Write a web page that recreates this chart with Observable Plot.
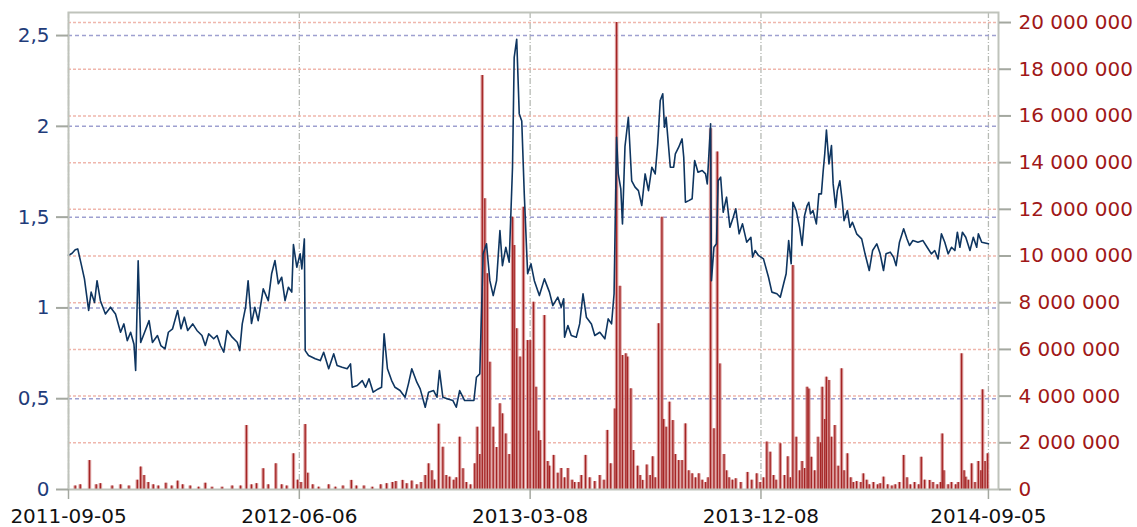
<!DOCTYPE html>
<html><head><meta charset="utf-8">
<script src="https://cdn.jsdelivr.net/npm/d3@7"></script>
<script src="https://cdn.jsdelivr.net/npm/@observablehq/plot@0.6"></script>
<style>body{margin:0;background:#fff;} svg{display:block;}</style>
</head><body><div id="chart"></div>
<script>
// Price (left axis)
const priceSeries = [["2011-09-05",1.29],["2011-09-09",1.30],["2011-09-13",1.32],["2011-09-16",1.325],["2011-09-20",1.244],["2011-09-24",1.16],["2011-09-29",0.986],["2011-10-02",1.087],["2011-10-06",1.03],["2011-10-09",1.15],["2011-10-13",1.04],["2011-10-19",0.967],["2011-10-25",1.004],["2011-10-31",0.967],["2011-11-06",0.866],["2011-11-10",0.912],["2011-11-14",0.82],["2011-11-18",0.866],["2011-11-22",0.80],["2011-11-24",0.655],["2011-11-27",1.26],["2011-11-30",0.81],["2011-12-04",0.858],["2011-12-10",0.93],["2011-12-14",0.81],["2011-12-20",0.848],["2011-12-24",0.793],["2011-12-29",0.775],["2012-01-02",0.866],["2012-01-07",0.885],["2012-01-13",0.986],["2012-01-17",0.885],["2012-01-21",0.949],["2012-01-25",0.876],["2012-01-31",0.912],["2012-02-05",0.876],["2012-02-11",0.848],["2012-02-15",0.793],["2012-02-19",0.857],["2012-02-25",0.83],["2012-02-29",0.848],["2012-03-04",0.793],["2012-03-08",0.756],["2012-03-12",0.876],["2012-03-18",0.839],["2012-03-24",0.811],["2012-03-27",0.765],["2012-03-30",0.912],["2012-04-03",1.004],["2012-04-06",1.15],["2012-04-10",0.914],["2012-04-14",1.004],["2012-04-18",0.93],["2012-04-24",1.105],["2012-04-30",1.04],["2012-05-04",1.188],["2012-05-08",1.261],["2012-05-12",1.133],["2012-05-16",1.169],["2012-05-20",1.04],["2012-05-24",1.114],["2012-05-28",1.087],["2012-05-30",1.349],["2012-06-03",1.224],["2012-06-07",1.298],["2012-06-09",1.215],["2012-06-12",1.38],["2012-06-13",0.765],["2012-06-17",0.738],["2012-06-25",0.72],["2012-07-01",0.71],["2012-07-05",0.756],["2012-07-11",0.665],["2012-07-17",0.747],["2012-07-21",0.683],["2012-07-27",0.673],["2012-08-02",0.665],["2012-08-06",0.692],["2012-08-08",0.563],["2012-08-14",0.573],["2012-08-20",0.60],["2012-08-24",0.563],["2012-08-28",0.61],["2012-09-02",0.536],["2012-09-08",0.554],["2012-09-12",0.563],["2012-09-15",0.857],["2012-09-19",0.665],["2012-09-24",0.60],["2012-09-28",0.563],["2012-10-04",0.545],["2012-10-10",0.508],["2012-10-14",0.582],["2012-10-18",0.665],["2012-10-24",0.591],["2012-10-28",0.554],["2012-11-03",0.453],["2012-11-07",0.536],["2012-11-13",0.545],["2012-11-17",0.508],["2012-11-20",0.655],["2012-11-24",0.508],["2012-11-30",0.499],["2012-12-06",0.49],["2012-12-10",0.453],["2012-12-14",0.545],["2012-12-20",0.49],["2012-12-26",0.49],["2012-12-31",0.49],["2013-01-03",0.618],["2013-01-07",0.637],["2013-01-11",1.298],["2013-01-15",1.353],["2013-01-19",1.15],["2013-01-23",1.068],["2013-01-27",1.15],["2013-01-31",1.426],["2013-02-03",1.233],["2013-02-07",1.334],["2013-02-11",1.252],["2013-02-15",1.775],["2013-02-17",2.38],["2013-02-20",2.48],["2013-02-23",2.07],["2013-02-26",2.03],["2013-03-01",1.628],["2013-03-05",1.188],["2013-03-09",1.243],["2013-03-13",1.15],["2013-03-19",1.068],["2013-03-25",1.16],["2013-03-31",1.087],["2013-04-04",1.013],["2013-04-10",1.059],["2013-04-14",1.004],["2013-04-17",1.05],["2013-04-18",0.839],["2013-04-22",0.903],["2013-04-26",0.848],["2013-05-02",0.839],["2013-05-06",0.912],["2013-05-10",1.078],["2013-05-14",0.949],["2013-05-20",0.912],["2013-05-24",0.848],["2013-05-30",0.866],["2013-06-05",0.83],["2013-06-09",0.94],["2013-06-13",0.912],["2013-06-16",1.078],["2013-06-19",1.94],["2013-06-21",1.738],["2013-06-24",1.656],["2013-06-26",1.463],["2013-06-29",1.89],["2013-07-03",2.05],["2013-07-07",1.70],["2013-07-11",1.665],["2013-07-15",1.646],["2013-07-19",1.564],["2013-07-23",1.738],["2013-07-27",1.646],["2013-07-31",1.775],["2013-08-04",1.738],["2013-08-07",1.904],["2013-08-10",2.142],["2013-08-13",2.179],["2013-08-15",1.995],["2013-08-17",2.05],["2013-08-20",1.885],["2013-08-22",1.775],["2013-08-26",1.775],["2013-08-28",1.849],["2013-09-01",1.885],["2013-09-05",1.931],["2013-09-07",1.83],["2013-09-09",1.582],["2013-09-13",1.591],["2013-09-17",1.601],["2013-09-20",1.812],["2013-09-24",1.747],["2013-09-29",1.757],["2013-10-03",1.738],["2013-10-05",1.683],["2013-10-09",2.014],["2013-10-10",1.15],["2013-10-13",1.334],["2013-10-16",1.353],["2013-10-18",1.70],["2013-10-21",1.72],["2013-10-24",1.527],["2013-10-28",1.61],["2013-11-01",1.444],["2013-11-05",1.5],["2013-11-08",1.546],["2013-11-12",1.408],["2013-11-16",1.463],["2013-11-21",1.362],["2013-11-26",1.389],["2013-11-28",1.279],["2013-12-01",1.316],["2013-12-05",1.289],["2013-12-11",1.27],["2013-12-17",1.169],["2013-12-21",1.087],["2013-12-27",1.078],["2013-12-31",1.059],["2014-01-04",1.133],["2014-01-07",1.188],["2014-01-10",1.371],["2014-01-13",1.243],["2014-01-15",1.582],["2014-01-19",1.536],["2014-01-23",1.444],["2014-01-26",1.344],["2014-01-29",1.509],["2014-02-01",1.564],["2014-02-03",1.582],["2014-02-05",1.518],["2014-02-08",1.536],["2014-02-12",1.463],["2014-02-15",1.628],["2014-02-18",1.628],["2014-02-20",1.747],["2014-02-22",1.849],["2014-02-24",1.98],["2014-02-27",1.793],["2014-03-02",1.894],["2014-03-04",1.683],["2014-03-07",1.554],["2014-03-09",1.646],["2014-03-12",1.70],["2014-03-15",1.582],["2014-03-17",1.481],["2014-03-21",1.536],["2014-03-24",1.444],["2014-03-27",1.472],["2014-04-01",1.408],["2014-04-07",1.38],["2014-04-11",1.298],["2014-04-16",1.206],["2014-04-20",1.316],["2014-04-25",1.353],["2014-04-29",1.298],["2014-05-03",1.206],["2014-05-06",1.298],["2014-05-11",1.307],["2014-05-15",1.279],["2014-05-18",1.233],["2014-05-22",1.362],["2014-05-27",1.436],["2014-05-31",1.38],["2014-06-03",1.344],["2014-06-07",1.371],["2014-06-13",1.362],["2014-06-19",1.371],["2014-06-24",1.334],["2014-06-29",1.298],["2014-07-03",1.316],["2014-07-07",1.27],["2014-07-11",1.408],["2014-07-15",1.362],["2014-07-19",1.298],["2014-07-23",1.334],["2014-07-27",1.316],["2014-07-30",1.417],["2014-08-02",1.334],["2014-08-05",1.417],["2014-08-09",1.389],["2014-08-14",1.316],["2014-08-18",1.389],["2014-08-22",1.334],["2014-08-24",1.408],["2014-08-28",1.362],["2014-09-05",1.353]];

// Volume in millions (right axis)
const volumeSeries = [["2011-09-13",0.15],["2011-09-19",0.2],["2011-09-30",1.24],["2011-10-08",0.2],["2011-10-13",0.25],["2011-10-27",0.15],["2011-11-06",0.2],["2011-11-16",0.15],["2011-11-26",0.4],["2011-11-30",0.96],["2011-12-04",0.6],["2011-12-09",0.3],["2011-12-15",0.2],["2011-12-21",0.15],["2011-12-30",0.27],["2012-01-06",0.15],["2012-01-13",0.36],["2012-01-19",0.2],["2012-01-28",0.15],["2012-02-07",0.1],["2012-02-15",0.27],["2012-02-23",0.1],["2012-03-06",0.1],["2012-03-18",0.15],["2012-03-28",0.15],["2012-04-04",2.74],["2012-04-10",0.2],["2012-04-16",0.25],["2012-04-24",0.89],["2012-04-30",0.2],["2012-05-09",1.1],["2012-05-16",0.2],["2012-05-22",0.15],["2012-05-30",1.53],["2012-06-04",0.4],["2012-06-08",0.3],["2012-06-13",2.78],["2012-06-16",0.7],["2012-06-22",0.2],["2012-06-29",0.1],["2012-07-11",0.2],["2012-07-19",0.1],["2012-07-28",0.15],["2012-08-07",0.39],["2012-08-13",0.15],["2012-08-22",0.15],["2012-09-01",0.1],["2012-09-11",0.2],["2012-09-18",0.25],["2012-09-25",0.3],["2012-09-29",0.34],["2012-10-07",0.39],["2012-10-12",0.25],["2012-10-18",0.36],["2012-10-24",0.2],["2012-10-29",0.3],["2012-11-03",0.6],["2012-11-07",1.1],["2012-11-11",0.8],["2012-11-14",0.4],["2012-11-19",2.8],["2012-11-24",1.81],["2012-11-28",0.6],["2012-12-02",0.53],["2012-12-07",0.4],["2012-12-10",0.5],["2012-12-14",2.24],["2012-12-18",0.89],["2012-12-22",0.3],["2012-12-27",0.2],["2013-01-01",1.1],["2013-01-04",2.67],["2013-01-07",1.5],["2013-01-10",17.73],["2013-01-13",12.45],["2013-01-16",9.24],["2013-01-19",5.45],["2013-01-23",2.67],["2013-01-27",1.8],["2013-01-31",3.67],["2013-02-03",3.24],["2013-02-07",2.38],["2013-02-11",1.5],["2013-02-15",11.66],["2013-02-17",10.45],["2013-02-20",6.88],["2013-02-24",5.67],["2013-02-28",12.09],["2013-03-05",6.38],["2013-03-08",6.38],["2013-03-12",8.02],["2013-03-15",4.38],["2013-03-18",2.5],["2013-03-20",2.1],["2013-03-25",7.45],["2013-03-29",1.2],["2013-03-31",1.0],["2013-04-05",1.46],["2013-04-10",0.7],["2013-04-14",0.9],["2013-04-18",0.5],["2013-04-22",0.9],["2013-04-27",0.4],["2013-04-30",0.3],["2013-05-05",0.3],["2013-05-08",0.6],["2013-05-13",1.46],["2013-05-18",0.5],["2013-05-24",0.34],["2013-05-30",0.6],["2013-06-04",0.4],["2013-06-08",2.53],["2013-06-12",1.1],["2013-06-17",3.45],["2013-06-19",20.0],["2013-06-23",8.7],["2013-06-26",5.74],["2013-06-30",5.81],["2013-07-02",5.67],["2013-07-06",4.31],["2013-07-09",1.67],["2013-07-14",1.0],["2013-07-17",0.6],["2013-07-20",0.39],["2013-07-25",1.05],["2013-07-29",0.6],["2013-08-01",1.4],["2013-08-04",0.5],["2013-08-08",7.1],["2013-08-12",11.66],["2013-08-14",3.0],["2013-08-17",2.67],["2013-08-21",3.74],["2013-08-25",2.95],["2013-08-28",1.5],["2013-09-01",1.24],["2013-09-05",1.24],["2013-09-09",2.81],["2013-09-13",0.8],["2013-09-17",0.67],["2013-09-21",0.5],["2013-09-25",0.67],["2013-09-29",0.4],["2013-10-03",0.3],["2013-10-06",0.5],["2013-10-09",15.45],["2013-10-13",2.6],["2013-10-17",14.45],["2013-10-20",5.38],["2013-10-25",1.5],["2013-10-28",0.8],["2013-10-31",0.5],["2013-11-04",0.4],["2013-11-08",0.46],["2013-11-14",0.3],["2013-11-22",0.73],["2013-11-27",0.4],["2013-12-03",0.67],["2013-12-07",0.3],["2013-12-11",0.5],["2013-12-15",2.03],["2013-12-19",1.6],["2013-12-23",0.6],["2013-12-26",0.4],["2013-12-31",1.96],["2014-01-05",0.6],["2014-01-09",1.4],["2014-01-12",0.5],["2014-01-15",9.59],["2014-01-19",2.24],["2014-01-23",0.8],["2014-01-26",1.2],["2014-01-29",0.9],["2014-02-01",4.38],["2014-02-03",4.3],["2014-02-06",1.38],["2014-02-10",0.8],["2014-02-14",2.24],["2014-02-17",2.0],["2014-02-19",4.38],["2014-02-22",3.0],["2014-02-24",4.81],["2014-02-27",4.67],["2014-03-02",2.24],["2014-03-06",2.74],["2014-03-10",1.0],["2014-03-14",5.17],["2014-03-17",0.8],["2014-03-21",1.53],["2014-03-25",0.5],["2014-03-28",0.3],["2014-04-01",0.34],["2014-04-06",0.3],["2014-04-09",0.67],["2014-04-13",0.4],["2014-04-16",0.2],["2014-04-21",0.3],["2014-04-26",0.2],["2014-04-29",0.25],["2014-05-03",0.53],["2014-05-08",0.2],["2014-05-13",0.15],["2014-05-17",0.2],["2014-05-22",0.3],["2014-05-27",1.46],["2014-05-31",0.5],["2014-06-04",0.2],["2014-06-09",0.3],["2014-06-14",0.2],["2014-06-17",1.38],["2014-06-21",0.4],["2014-06-27",0.39],["2014-07-01",0.3],["2014-07-06",0.2],["2014-07-10",0.3],["2014-07-12",2.38],["2014-07-14",0.8],["2014-07-19",0.2],["2014-07-23",0.3],["2014-07-28",0.2],["2014-07-31",0.3],["2014-08-04",5.81],["2014-08-07",0.8],["2014-08-09",0.53],["2014-08-12",0.4],["2014-08-16",1.1],["2014-08-20",0.3],["2014-08-24",1.2],["2014-08-27",0.8],["2014-08-29",4.27],["2014-09-01",1.2],["2014-09-04",1.53]];

const dateTicks = ["2011-09-05","2012-06-06","2013-03-08","2013-12-08","2014-09-05"];
const priceTicks = [0, 0.5, 1, 1.5, 2, 2.5];
const volumeTicks = [0, 2, 4, 6, 8, 10, 12, 14, 16, 18, 20]; // millions
const xRange = ["2011-09-05", "2014-09-17"];
const priceMax = 2.627;
const volumeMax = 20.43; // millions at the top of the frame

const parse = d3.utcParse("%Y-%m-%d");
const k = priceMax / volumeMax;
const priceData = priceSeries.map(([d, v]) => ({date: parse(d), value: v}));
const volData = volumeSeries.map(([d, v]) => ({date: parse(d), y: v * k}));
const fmtVol = d => d3.format(",")(Math.round(d / k) * 1e6).replace(/,/g, " ");

const chart = Plot.plot({
  width: 1137, height: 527,
  marginLeft: 68, marginRight: 139, marginTop: 12, marginBottom: 38,
  style: {fontFamily: "DejaVu Sans", fontSize: "20px", background: "white", overflow: "visible"},
  x: {type: "utc", domain: xRange.map(parse)},
  y: {domain: [0, priceMax]},
  marks: [
    Plot.ruleX(dateTicks.map(parse), {stroke: "#b6bab4", strokeDasharray: "6,2,1,2", strokeWidth: 1.3}),
    Plot.ruleY(volumeTicks.slice(1).map(v => v * k), {stroke: "#efb6ac", strokeDasharray: "3,2", strokeWidth: 1.5}),
    Plot.ruleY(priceTicks.slice(1), {stroke: "#9ea0d0", strokeDasharray: "4,3", strokeWidth: 1.5}),
    Plot.ruleX(volData, {x: "date", y1: 0, y2: "y", stroke: "#d68e8e", strokeWidth: 3.5, strokeOpacity: 0.85}),
    Plot.ruleX(volData, {x: "date", y1: 0, y2: "y", stroke: "#a42424", strokeWidth: 1.3}),
    Plot.lineY(priceData, {x: "date", y: "value", stroke: "#0e3560", strokeWidth: 1.6}),
    Plot.frame({stroke: "#bfc3bb", strokeWidth: 2}),
    Plot.axisY(priceTicks, {anchor: "left", label: null, tickSize: 12, tickPadding: 7,
      tickFormat: d => String(d).replace(".", ","), fill: "#1f3c7a", stroke: "#a4a8a0", strokeWidth: 2}),
    Plot.axisY(volumeTicks.map(v => v * k), {anchor: "right", label: null, tickSize: 12, tickPadding: 8,
      tickFormat: fmtVol, fill: "#a01818", stroke: "#a4a8a0", strokeWidth: 2}),
    Plot.axisX(dateTicks.map(parse), {anchor: "bottom", label: null, tickSize: 10, tickPadding: 9,
      tickFormat: d3.utcFormat("%Y-%m-%d"), fill: "#111", stroke: "#a4a8a0", strokeWidth: 1.5})
  ]
});
document.getElementById("chart").appendChild(chart);
</script>
</body></html>
